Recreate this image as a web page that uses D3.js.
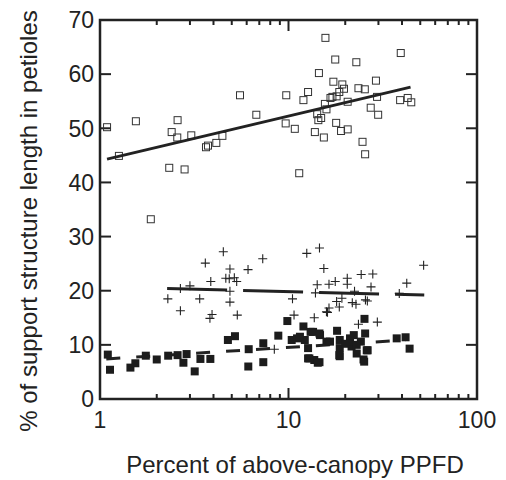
<!DOCTYPE html>
<html>
<head>
<meta charset="utf-8">
<script src="https://cdn.jsdelivr.net/npm/d3@7/dist/d3.min.js"></script>
<style>
  body { margin: 0; background: #fff; }
  text { font-family: Arial, "Liberation Sans", sans-serif; fill: #222; }
</style>
</head>
<body>
<svg id="chart"></svg>
<script>
// open squares (x = % PPFD, y = %)
const openSquares = [
  [1.09,50.2],[1.26,44.9],[1.55,51.3],[1.86,33.2],[2.33,42.7],[2.58,51.5],[2.40,49.3],[2.57,48.3],
  [2.81,42.4],[3.05,48.7],[3.65,46.5],[3.74,46.8],[4.14,47.3],[4.46,48.6],[5.53,56.1],[6.75,52.5],
  [9.73,56.1],[9.66,50.9],[10.8,49.9],[11.4,41.7],[12.0,55.2],[12.7,56.7],[14.5,60.2],[15.7,66.7],
  [13.8,49.3],[14.2,52.6],[14.4,51.5],[14.9,51.9],[15.4,48.3],[15.6,54.5],[15.9,53.5],[17.7,62.7],
  [17.3,58.6],[16.7,55.6],[17.1,55.8],[18.0,55.9],[18.6,56.7],[19.3,58.1],[19.7,57.3],[17.9,51.0],
  [19.0,49.5],[20.6,49.8],[20.6,54.9],[22.9,62.2],[23.5,57.4],[25.4,57.2],[24.7,47.5],[25.5,45.2],
  [27.3,53.8],[29.1,58.8],[29.5,55.8],[29.9,52.5],[39.4,63.9],[39.1,55.2],[42.9,55.6],[44.8,54.8]
];
const plusPoints = [
  [2.29,18.5],[2.67,20.4],[2.67,16.3],[3.0,20.9],[3.38,18.5],[3.62,25.1],[3.87,21.7],[4.51,27.2],
  [4.89,24.0],[4.85,22.2],[5.16,22.4],[5.31,21.7],[4.89,19.9],[4.89,17.9],[6.10,23.9],[7.30,25.9],
  [10.5,18.5],[12.5,26.9],[14.6,27.9],[15.4,24.1],[14.2,21.1],[13.9,19.6],[16.4,21.2],[17.7,21.7],
  [20.5,22.3],[20.5,21.2],[24.3,23.0],[28.0,23.1],[27.4,20.7],[22.4,19.9],[19.2,18.6],[21.8,17.8],
  [25.6,18.3],[18.6,17.0],[16.4,16.8],[42.4,21.4],[52.1,24.7],[38.7,19.5],[3.93,15.6],[5.35,15.5],
  [10.7,15.5],[13.7,15.0],[16.1,16.0],[29.6,14.2],[23.5,13.8],[8.41,9.2],[3.83,14.9],[18.0,18.0],
  [22.8,17.5],[15.9,16.1],[26.2,18.1],[4.65,22.3]
];
const filledSquares = [
  [1.10,8.2],[1.13,5.4],[1.45,5.8],[1.54,6.6],[1.75,8.0],[2.0,7.3],[2.30,8.0],[2.58,8.1],
  [2.88,8.3],[2.77,6.7],[3.18,5.1],[3.41,7.4],[3.85,7.4],[4.77,10.9],[5.20,11.6],[6.15,9.2],
  [6.12,6.0],[7.35,10.3],[7.35,6.8],[8.83,11.7],[9.86,14.4],[10.4,10.9],[11.1,11.2],[12.0,13.4],
  [12.2,10.9],[12.7,9.4],[13.5,12.4],[12.7,7.5],[13.7,7.2],[14.6,6.8],[14.7,11.8],[15.9,10.6],
  [16.6,10.6],[18.1,12.6],[18.7,10.9],[18.7,9.4],[18.7,7.9],[21.2,11.2],[21.6,9.7],[23.0,8.4],
  [24.2,10.6],[25.5,12.1],[25.0,7.3],[26.3,9.0],[25.3,14.8],[37.5,11.2],[41.8,11.4],[43.9,9.3],
  [13.1,12.4],[14.6,12.1],[21.2,10.6],[23.0,10.0],[26.0,9.0],[25.2,6.9],[18.6,8.1],[14.3,6.7],
  [12.9,7.5],[11.5,11.5],[20.0,10.2],[22.2,11.8]
];
// fitted lines, end points
const fitOpen = [[1.09,44.3],[44.4,57.6]];
const fitPlus = [[2.27,20.4],[52.5,19.2]];
const fitFilled = [[1.08,7.4],[42,10.9]];

const xTicks = [1, 10, 100];
const xMinor = [2,3,4,5,6,7,8,9,20,30,40,50,60,70,80,90];
const yTicks = [0,10,20,30,40,50,60,70];

const width = 506, height = 480;
const marginLeft = 100, marginRight = 29, marginTop = 20, marginBottom = 81;
const ink = '#222';

const svg = d3.select('#chart').attr('width', width).attr('height', height);

const x = d3.scaleLog().domain([1, 100]).range([marginLeft, width - marginRight]);
const y = d3.scaleLinear().domain([0, 70]).range([height - marginBottom, marginTop]);

const x0 = x.range()[0], x1 = x.range()[1], y0 = y.range()[0], y1 = y.range()[1];

// ticks, all inward
const ticks = svg.append('g').attr('stroke', ink).attr('stroke-width', 2);
xTicks.forEach((t) => {
  ticks.append('line').attr('x1', x(t)).attr('x2', x(t)).attr('y1', y0).attr('y2', y0 - 11);
  ticks.append('line').attr('x1', x(t)).attr('x2', x(t)).attr('y1', y1).attr('y2', y1 + 11);
});
xMinor.forEach((t) => {
  ticks.append('line').attr('x1', x(t)).attr('x2', x(t)).attr('y1', y0).attr('y2', y0 - 5);
  ticks.append('line').attr('x1', x(t)).attr('x2', x(t)).attr('y1', y1).attr('y2', y1 + 5);
});
yTicks.forEach((t) => {
  ticks.append('line').attr('x1', x0).attr('x2', x0 + 11).attr('y1', y(t)).attr('y2', y(t));
  ticks.append('line').attr('x1', x1).attr('x2', x1 - 11).attr('y1', y(t)).attr('y2', y(t));
});

// frame
svg.append('rect')
  .attr('x', x0).attr('y', y1)
  .attr('width', x1 - x0).attr('height', y0 - y1)
  .attr('fill', 'none').attr('stroke', ink).attr('stroke-width', 2.5);

// tick labels
svg.append('g').selectAll('text').data(yTicks).join('text')
  .attr('x', x0 - 6).attr('y', (d) => y(d)).attr('dy', '0.36em')
  .attr('text-anchor', 'end').style('font-size', '23px').text((d) => d);
svg.append('g').selectAll('text').data(xTicks).join('text')
  .attr('x', (d) => x(d)).attr('y', 428)
  .attr('text-anchor', 'middle').style('font-size', '23px').text((d) => d);

// axis titles
svg.append('text').attr('x', 295).attr('y', 473)
  .attr('text-anchor', 'middle').style('font-size', '24px')
  .text('Percent of above-canopy PPFD');
svg.append('text')
  .attr('transform', `translate(37,${221}) rotate(-90)`)
  .attr('text-anchor', 'middle').style('font-size', '24px')
  .text('% of support structure length in petioles');

const line = d3.line().x((d) => x(d[0])).y((d) => y(d[1]));

// fit lines
svg.append('path').datum(fitFilled).attr('d', line)
  .attr('fill', 'none').attr('stroke', ink).attr('stroke-width', 3)
  .attr('stroke-dasharray', '14,16');
svg.append('path').datum(fitPlus).attr('d', line)
  .attr('fill', 'none').attr('stroke', ink).attr('stroke-width', 3)
  .attr('stroke-dasharray', '60,16');

// filled squares
const fs = 8;
svg.append('g').selectAll('rect').data(filledSquares).join('rect')
  .attr('x', (d) => x(d[0]) - fs / 2).attr('y', (d) => y(d[1]) - fs / 2)
  .attr('width', fs).attr('height', fs).attr('fill', '#1c1c1c');

// plus signs
const ps = 4.5;
svg.append('g').selectAll('path').data(plusPoints).join('path')
  .attr('d', (d) => {
    const cx = x(d[0]), cy = y(d[1]);
    return `M${cx - ps},${cy}H${cx + ps}M${cx},${cy - ps}V${cy + ps}`;
  })
  .attr('stroke', ink).attr('stroke-width', 1.1).attr('fill', 'none');

// open squares
const os = 7;
svg.append('g').selectAll('rect').data(openSquares).join('rect')
  .attr('x', (d) => x(d[0]) - os / 2).attr('y', (d) => y(d[1]) - os / 2)
  .attr('width', os).attr('height', os)
  .attr('fill', 'none').attr('stroke', '#333').attr('stroke-width', 1);

svg.append('path').datum(fitOpen).attr('d', line)
  .attr('fill', 'none').attr('stroke', ink).attr('stroke-width', 3);
</script>
</body>
</html>
